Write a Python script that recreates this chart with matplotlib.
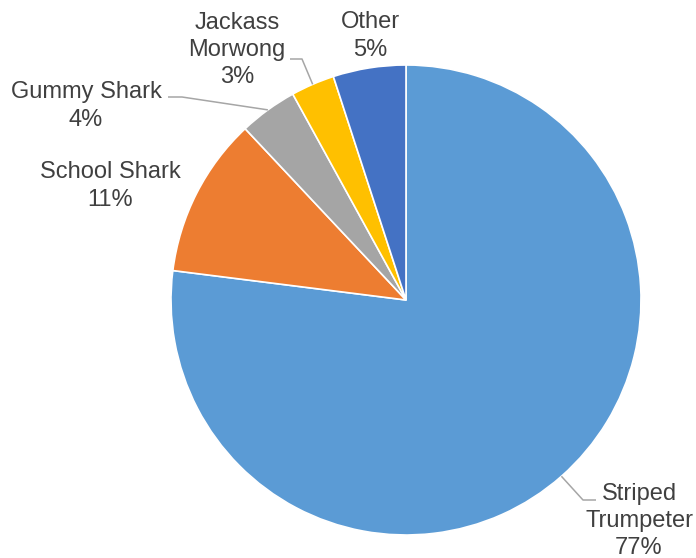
import matplotlib.pyplot as plt
import numpy as np

plt.rcParams['font.family'] = ['Liberation Sans', 'DejaVu Sans']

species = ['Striped\nTrumpeter', 'School Shark', 'Gummy Shark', 'Jackass\nMorwong', 'Other']
shares = [77, 11, 4, 3, 5]
colors = ['#5B9BD5', '#ED7D31', '#A5A5A5', '#FFC000', '#4472C4']

# label anchor (x, y from top) and leader elbow / end points, in pixels
label_pos = [(639, 521), (110, 186), (86, 106), (237, 50), (370, 36)]
leaders = {
    0: [(583, 500), (596, 500)],
    2: [(182, 97), (168, 97)],
    3: [(302, 59), (290, 59)],
}

W, H = 696, 558
fig = plt.figure(figsize=(W / 100, H / 100), dpi=100)
ax = fig.add_axes([0, 0, 1, 1])
ax.set_xlim(0, W)
ax.set_ylim(0, H)
ax.set_aspect('equal')
ax.axis('off')

cx, cy, r = 406, H - 300, 235
wedges, _ = ax.pie(shares, colors=colors, startangle=90, counterclock=False,
                   radius=r, center=(cx, cy),
                   wedgeprops=dict(edgecolor='white', linewidth=1.2))
ax.set_xlim(0, W)
ax.set_ylim(0, H)

text_color = '#404040'
for i, (name, val) in enumerate(zip(species, shares)):
    x, y = label_pos[i]
    ax.text(x, H - y, f'{name}\n{val}%', ha='center', va='center',
            fontsize=17, color=text_color, linespacing=1.32)
    if i in leaders:
        w = wedges[i]
        mid = np.deg2rad((w.theta1 + w.theta2) / 2)
        pts = [(cx + r * np.cos(mid), cy + r * np.sin(mid))]
        pts += [(px, H - py) for px, py in leaders[i]]
        xs, ys = zip(*pts)
        ax.plot(xs, ys, color='#A6A6A6', linewidth=1.1, solid_capstyle='butt')

fig.savefig('out.png', dpi=100, facecolor='white')
